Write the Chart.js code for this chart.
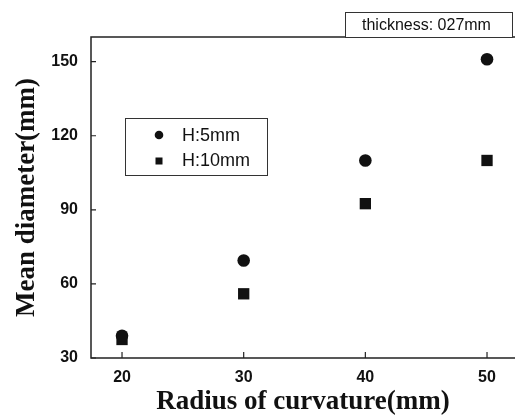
<!DOCTYPE html>
<html>
<head>
<meta charset="utf-8">
<script src="https://cdn.jsdelivr.net/npm/chart.js@4/dist/chart.umd.min.js"></script>
<style>
  html, body { margin: 0; padding: 0; background: #fff; }
</style>
</head>
<body>
<canvas id="Graph1" width="515" height="417"></canvas>
<script>
// radius of curvature (mm)
const radius = [20, 30, 40, 50];
// mean diameter (mm)
const h5 = [39, 69.5, 110, 151];
const h10 = [37.5, 56, 92.5, 110];
const seriesNames = ['H:5mm', 'H:10mm'];
const xTicks = [20, 30, 40, 50];
const yTicks = [30, 60, 90, 120, 150];
const note = 'thickness: 027mm';

const ink = '#111';
const serif = '"Liberation Serif", "Times New Roman", serif';
const sans = '"Liberation Sans", Arial, sans-serif';

function pts(ys) {
    return radius.map((x, i) => ({x: x, y: ys[i]}));
}

function noPad(s) {
    s.paddingLeft = 0;
    s.paddingRight = 0;
    s.paddingTop = 0;
    s.paddingBottom = 0;
}

const framePlugin = {
    id: 'frame',
    afterDraw(chart) {
        const ctx = chart.ctx;
        const a = chart.chartArea;
        const xs = chart.scales.x, ys = chart.scales.y;
        ctx.save();
        // frame: the right side is cut off in the original
        ctx.strokeStyle = '#222';
        ctx.lineWidth = 1.5;
        ctx.beginPath();
        ctx.moveTo(chart.width, a.top);
        ctx.lineTo(a.left, a.top);
        ctx.lineTo(a.left, a.bottom);
        ctx.lineTo(chart.width, a.bottom);
        ctx.stroke();

        // inside tick marks
        ctx.lineWidth = 1.2;
        ctx.beginPath();
        xTicks.forEach(v => {
            const px = xs.getPixelForValue(v);
            ctx.moveTo(px, a.bottom);
            ctx.lineTo(px, a.bottom - 6);
        });
        yTicks.forEach(v => {
            const py = ys.getPixelForValue(v);
            ctx.moveTo(a.left, py);
            ctx.lineTo(a.left + 5, py);
        });
        ctx.stroke();

        // legend box
        ctx.lineWidth = 1;
        ctx.strokeStyle = '#333';
        ctx.strokeRect(125.5, 118.5, 142, 57);
        ctx.fillStyle = ink;
        ctx.beginPath();
        ctx.arc(159, 135, 4.3, 0, Math.PI * 2);
        ctx.fill();
        ctx.fillRect(155.5, 157.5, 7, 7);
        ctx.font = '18px ' + sans;
        ctx.textBaseline = 'middle';
        ctx.textAlign = 'left';
        ctx.fillText(seriesNames[0], 182, 136);
        ctx.fillText(seriesNames[1], 182, 161);

        // thickness note
        ctx.fillStyle = '#fff';
        ctx.fillRect(345, 12, 167, a.top - 12);
        ctx.strokeStyle = '#333';
        ctx.strokeRect(345.5, 12.5, 167, a.top - 12);
        ctx.fillStyle = ink;
        ctx.font = '16px ' + sans;
        ctx.fillText(note, 362, 26);
        ctx.restore();
    }
};

new Chart(document.getElementById('Graph1'), {
    type: 'scatter',
    data: {
        datasets: [{
            label: seriesNames[0],
            data: pts(h5),
            pointStyle: 'circle',
            pointRadius: 6.3,
            pointHoverRadius: 6.3,
            backgroundColor: ink,
            borderWidth: 0
        }, {
            label: seriesNames[1],
            data: pts(h10),
            pointStyle: 'rect',
            pointRadius: 8,
            pointHoverRadius: 8,
            backgroundColor: ink,
            borderWidth: 0
        }]
    },
    options: {
        responsive: false,
        animation: false,
        events: [],
        layout: { autoPadding: false, padding: { left: 0, right: 0, top: 37, bottom: 0 } },
        plugins: { legend: { display: false }, tooltip: { enabled: false } },
        scales: {
            x: {
                type: 'linear',
                min: 17.45,
                max: 52.3,
                afterBuildTicks: s => { s.ticks = xTicks.map(v => ({value: v})); },
                afterFit: s => { s.height = 59; noPad(s); },
                grid: { display: false, drawTicks: false },
                border: { display: false },
                ticks: { color: ink, padding: 10, font: { family: sans, size: 16, weight: 'bold' } },
                title: {
                    display: true,
                    text: 'Radius of curvature(mm)',
                    color: ink,
                    padding: { top: 0, bottom: 1 },
                    font: { family: serif, size: 27, weight: 'bold', lineHeight: 1 }
                }
            },
            y: {
                type: 'linear',
                min: 30,
                max: 160,
                afterBuildTicks: s => { s.ticks = yTicks.map(v => ({value: v})); },
                afterFit: s => { s.width = 91; noPad(s); },
                grid: { display: false, drawTicks: false },
                border: { display: false },
                ticks: { color: ink, padding: 13, font: { family: sans, size: 16, weight: 'bold' } },
                title: {
                    display: true,
                    text: 'Mean diameter(mm)',
                    color: ink,
                    padding: { top: 14, bottom: 0 },
                    font: { family: serif, size: 27, weight: 'bold', lineHeight: 1 }
                }
            }
        }
    },
    plugins: [framePlugin]
});
</script>
</body>
</html>
